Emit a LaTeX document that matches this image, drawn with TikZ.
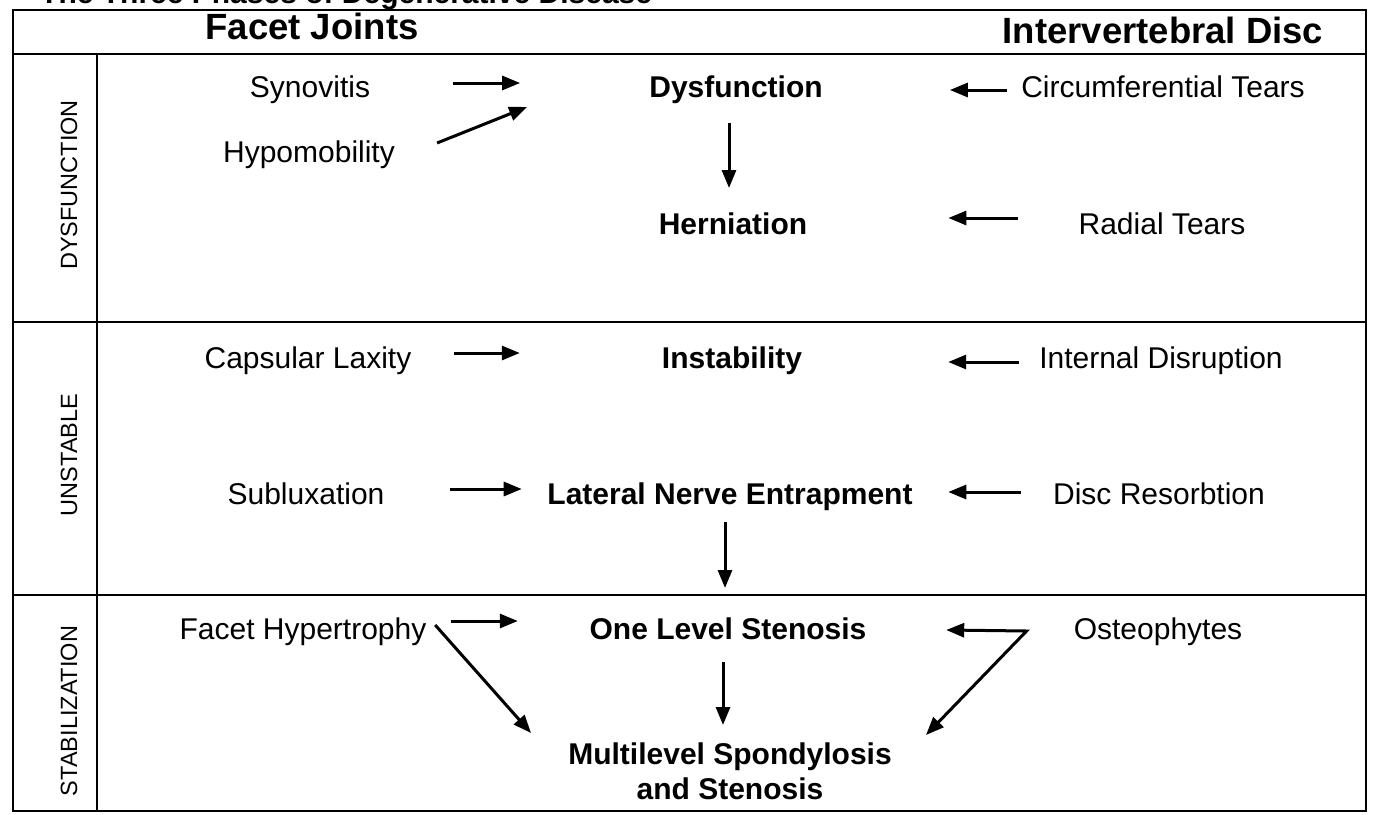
\documentclass[tikz,border=0pt]{standalone}
\usepackage{fontspec}
\setmainfont{Liberation Sans}
\usetikzlibrary{arrows.meta}
\tikzset{
  reg/.style={font=\fontsize{30}{35}\selectfont, inner sep=0pt, anchor=base},
  bld/.style={font=\fontsize{30}{35}\selectfont\bfseries, inner sep=0pt, anchor=base},
  hdr/.style={font=\fontsize{36.5}{40}\selectfont\bfseries, inner sep=0pt, anchor=base},
  side/.style={font=\fontsize{23.5}{26}\selectfont, inner sep=0pt, rotate=90},
  tip/.tip={Triangle[length=18pt,width=14pt]},
  arr/.style={line width=3pt, -tip},
  darr/.style={line width=3pt, tip-tip, line join=miter},
  frame/.style={line width=2.2pt},
}
\begin{document}
\begin{tikzpicture}[x=1pt,y=-1pt]
\useasboundingbox (0,0) rectangle (1373,814);
\fill[white] (0,0) rectangle (1373,814);
\clip (0,0) rectangle (1373,814);

% title (cut off at top, as in the reference)
\node[hdr, font=\fontsize{30}{35}\selectfont\bfseries, anchor=base west] (title) at (40,3) {The Three Phases of Degenerative Disease};

% table frame
\draw[frame] (13,10) rectangle (1366,811);
\draw[frame] (13,54) -- (1366,54);
\draw[frame] (13,322) -- (1366,322);
\draw[frame] (13,595) -- (1366,595);
\draw[frame] (97,54) -- (97,811);

% headers
\node[hdr] (hdrL) at (312,39) {Facet Joints};
\node[hdr] (hdrR) at (1163,43) {Intervertebral Disc};

% side labels
\node[side] (lab1) at (69,185) {DYSFUNCTION};
\node[side] (lab2) at (69,455) {UNSTABLE};
\node[side] (lab3) at (69,711) {STABILIZATION};

% row 1
\node[reg] (syn)  at (310,97)  {Synovitis};
\node[reg] (hyp)  at (309,162) {Hypomobility};
\node[bld] (dys)  at (736,97)  {Dysfunction};
\node[reg] (circ) at (1163,97) {Circumferential Tears};
\node[bld] (hern) at (733,234) {Herniation};
\node[reg] (rad)  at (1162,234) {Radial Tears};

% row 2
\node[reg] (cap)  at (308,368)  {Capsular Laxity};
\node[bld] (inst) at (732,368)  {Instability};
\node[reg] (intd) at (1161,368) {Internal Disruption};
\node[reg] (sub)  at (306,504)  {Subluxation};
\node[bld] (lne)  at (730,504)  {Lateral Nerve Entrapment};
\node[reg] (disc) at (1159,504) {Disc Resorbtion};

% row 3
\node[reg] (fh)   at (303,639)  {Facet Hypertrophy};
\node[bld] (ols)  at (728,639)  {One Level Stenosis};
\node[reg] (ost)  at (1158,639) {Osteophytes};
\node[bld, align=center, anchor=north] (ms) at (730,743) {Multilevel Spondylosis\\and Stenosis};
\coordinate (oc) at ([shift={(-47,-8)}]ost.base west);

% arrows row 1
\draw[arr] ([shift={(83,-14)}]syn.base east) -- ([shift={(-129,-14)}]dys.base west);
\draw[arr] ([shift={(42,-19)}]hyp.base east) -- ([shift={(-122,10)}]dys.base west);
\draw[arr] ([shift={(-14,-7)}]circ.base west) -- ([shift={(127,-7)}]dys.base east);
\draw[arr] ([shift={(-7,26)}]dys.base) -- ([shift={(-4,-46)}]hern.base);
\draw[arr] ([shift={(-60,-16)}]rad.base west) -- ([shift={(141,-16)}]hern.base east);

% arrows row 2
\draw[arr] ([shift={(42,-15)}]cap.base east) -- ([shift={(-142,-15)}]inst.base west);
\draw[arr] ([shift={(-20,-6)}]intd.base west) -- ([shift={(146,-6)}]inst.base east);
\draw[arr] ([shift={(65,-15)}]sub.base east) -- ([shift={(-25.5,-15)}]lne.base west);
\draw[arr] ([shift={(-32,-12)}]disc.base west) -- ([shift={(35.5,-12)}]lne.base east);
\draw[arr] ([shift={(-5,18)}]lne.base) -- ([shift={(-3,-51)}]ols.base);

% arrows row 3
\draw[arr] ([shift={(24,-18)}]fh.base east) -- ([shift={(-71.6,-18)}]ols.base west);
\draw[arr] ([shift={(8.6,-14)}]fh.base east) -- ([shift={(-199,-10)}]ms.north);
\draw[arr] ([shift={(-5,23)}]ols.base) -- ([shift={(-7,-18)}]ms.north);
\draw[darr] ([shift={(79.6,-9)}]ols.base east) -- (oc) -- ([shift={(196,-8)}]ms.north);
\end{tikzpicture}
\end{document}
